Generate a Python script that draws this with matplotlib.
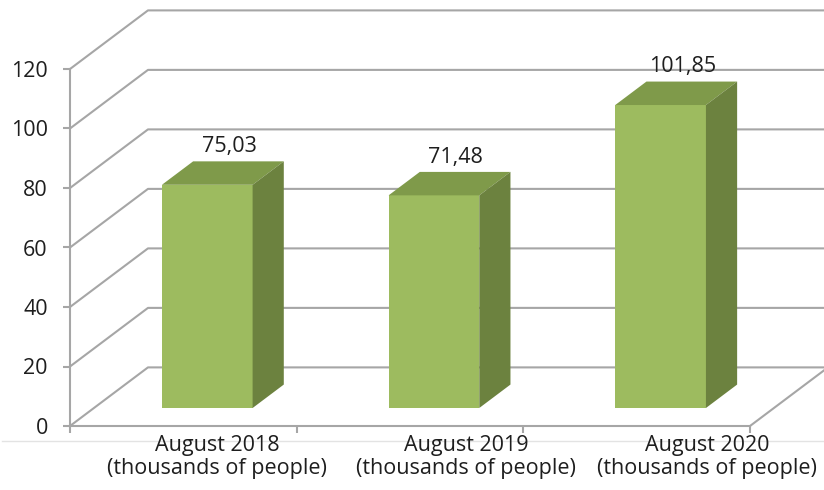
import matplotlib
matplotlib.use("Agg")
import matplotlib.pyplot as plt
from matplotlib.patches import Polygon
from matplotlib.lines import Line2D

# ---- data ----
categories = ["August 2018\n(thousands of people)",
              "August 2019\n(thousands of people)",
              "August 2020\n(thousands of people)"]
values = [75.03, 71.48, 101.85]
value_labels = ["75,03", "71,48", "101,85"]
yticks = [0, 20, 40, 60, 80, 100, 120]

# ---- style / layout ----
FONT = "Open Sans"
FS = 15.5
TXT = "#1e1e1e"
GRID = "#a6a6a6"
FRONT = "#9dbb5f"
TOP = "#7f9a4a"
SIDE = "#6c823f"

W, H = 824, 490
fig = plt.figure(figsize=(W / 100, H / 100), dpi=100)
ax = fig.add_axes([70 / W, (H - 426) / H, 680 / W, 357 / H])
ax.set_xlim(0, 3)
ax.set_ylim(0, 120)

DX, DY = 0.344, 19.7          # full depth of the floor (data units)
F0 = 0.307                    # depth fraction of bar front face
BF = 0.40                     # depth fraction of bar thickness
BW = 0.40                     # bar width
label_pos = [0.648, 1.747, 2.81]

ncat = len(values)
# walls / gridlines
for v in yticks:
    ax.add_line(Line2D([0, DX, ncat + DX], [v, v + DY, v + DY], color=GRID,
                       lw=1.5, clip_on=False, zorder=1))
ax.add_line(Line2D([ncat, ncat + DX], [0, DY], color=GRID, lw=1.5,
                   clip_on=False, zorder=1))

# bars
centers = [i + 0.5 for i in range(ncat)]
bdx, bdy = BF * DX, BF * DY
x0s = [c + F0 * DX for c in centers]
base = F0 * DY
ax.bar(x0s, values, width=BW, bottom=base, color=FRONT, zorder=3,
       clip_on=False, linewidth=0)
for xc, v, lab in zip(x0s, values, value_labels):
    xl, xr = xc - BW / 2, xc + BW / 2
    top = base + v
    ax.add_patch(Polygon([(xl, top), (xl + bdx, top + bdy), (xr + bdx, top + bdy),
                          (xr, top)], closed=True, facecolor=TOP, edgecolor="none",
                         zorder=3, clip_on=False))
    ax.add_patch(Polygon([(xr, base), (xr + bdx, base + bdy), (xr + bdx, top + bdy),
                          (xr, top)], closed=True, facecolor=SIDE, edgecolor="none",
                         zorder=3, clip_on=False))
    ax.text(xc + 0.7 * bdx, top + bdy + 1.4, lab, ha="center", va="bottom",
            fontsize=FS, family=FONT, color=TXT, zorder=4)

# axes styling
for s in ["top", "right"]:
    ax.spines[s].set_visible(False)
for s in ["left", "bottom"]:
    ax.spines[s].set_color(GRID)
    ax.spines[s].set_linewidth(1.5)
ax.set_facecolor("none")
ax.set_yticks(yticks)
ax.set_yticklabels([str(t) for t in yticks], family=FONT, fontsize=FS, color=TXT)
ax.tick_params(axis="y", length=5, width=1.5, color=GRID, pad=11)
ax.set_xticks(range(ncat + 1))
ax.set_xticklabels([""] * (ncat + 1))
ax.tick_params(axis="x", which="major", length=5, width=1.5, color=GRID)
ax.set_xticks(label_pos, minor=True)
ax.set_xticklabels(categories, minor=True, family=FONT, fontsize=FS, color=TXT,
                   linespacing=1.12)
ax.tick_params(axis="x", which="minor", length=0, pad=6.5)

fig.add_artist(Line2D([0.003, 1], [(H - 441) / H] * 2, color="#e3e3e3", lw=1,
                      transform=fig.transFigure, zorder=0))

fig.savefig("out.png", dpi=100)
